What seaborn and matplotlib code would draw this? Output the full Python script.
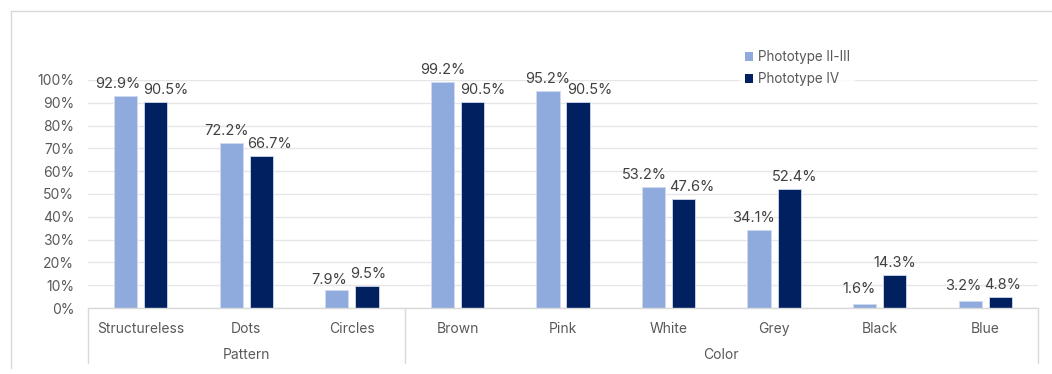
import matplotlib
matplotlib.use("Agg")
import matplotlib.pyplot as plt
import seaborn as sns
import pandas as pd
from matplotlib.lines import Line2D
from matplotlib.patches import Patch
from matplotlib.ticker import PercentFormatter

# --- data -------------------------------------------------------------
categories = ["Structureless", "Dots", "Circles",
              "Brown", "Pink", "White", "Grey", "Black", "Blue"]
groups = ["Pattern", "Color"]
group_sizes = [3, 6]
series_names = ["Phototype II-III", "Phototype IV"]
phototype_2_3 = [92.9, 72.2, 7.9, 99.2, 95.2, 53.2, 34.1, 1.6, 3.2]
phototype_4 = [90.5, 66.7, 9.5, 90.5, 90.5, 47.6, 52.4, 14.3, 4.8]
y_ticks = [0, 10, 20, 30, 40, 50, 60, 70, 80, 90, 100]

df = pd.DataFrame({
    "category": categories * 2,
    "series": [series_names[0]] * len(categories) + [series_names[1]] * len(categories),
    "value": phototype_2_3 + phototype_4,
})

# label nudges (pixels) so neighbouring value labels don't collide
nudge_x = [
    [-8, -5, -8, 0, 0, -9, -6, -6, -7],
    [10, 8, 1, 10, 12, 8, 5, 0, 2],
]
nudge_y = [
    [0, 0, -2, 0, 0, 0, 0, 3, 3],
    [0, 0, 0, 0, 0, 0, 0, 0, 0],
]

# --- style ------------------------------------------------------------
sns.set_theme(style="white")
plt.rcParams["font.family"] = ["Inter", "DejaVu Sans"]
TEXT = "#595959"
LABEL = "#404040"
GRID = "#E6E6E6"
colors = ["#8FAADC", "#002060"]

fig = plt.figure(figsize=(10.52, 3.74), dpi=100)
W, H = 1052, 374
x0, x1, y0, y1 = 88, 1038, 308, 80
ax = fig.add_axes([x0 / W, 1 - y0 / H, (x1 - x0) / W, (y0 - y1) / H])

sns.barplot(data=df, x="category", y="value", hue="series",
            order=categories, hue_order=series_names, palette=colors,
            width=0.57, gap=0.23, ax=ax, legend=False,
            edgecolor="#D0DAF0", linewidth=0.6, saturation=1)

for si, cont in enumerate(ax.containers):
    for ci, (bar, v) in enumerate(zip(cont.patches, cont.datavalues)):
        ax.annotate(f"{v:.1f}%",
                    xy=(bar.get_x() + bar.get_width() / 2, bar.get_height()),
                    xytext=(nudge_x[si][ci], 5 + nudge_y[si][ci]),
                    textcoords="offset pixels", ha="center", va="bottom",
                    fontsize=10.5, color=LABEL)

ax.set_xlim(-0.5, len(categories) - 0.5)
ax.set_ylim(0, 100)
ax.set_yticks(y_ticks)
ax.yaxis.set_major_formatter(PercentFormatter(decimals=0))
ax.tick_params(axis="y", length=0, pad=10, labelsize=10, labelcolor=TEXT)
ax.tick_params(axis="x", length=0, pad=10, labelsize=10, labelcolor=TEXT)
ax.set_xlabel("")
ax.set_ylabel("")
ax.yaxis.grid(True, color=GRID, linewidth=1)
ax.set_axisbelow(True)
for s in ["top", "right", "left"]:
    ax.spines[s].set_visible(False)
ax.spines["bottom"].set_color("#D9D9D9")
ax.spines["bottom"].set_linewidth(1)

# --- grouped category axis ------------------------------------------------
trans = ax.get_xaxis_transform()
line_bottom = -(363 - y0) / (y0 - y1)
group_label_y = -(355 - y0) / (y0 - y1)
start = -0.5
bounds = [start]
for g, n in zip(groups, group_sizes):
    end = start + n
    ax.text((start + end) / 2, group_label_y, g, transform=trans,
            ha="center", va="center", fontsize=10, color=TEXT)
    bounds.append(end)
    start = end
for b in bounds:
    ax.add_line(Line2D([b, b], [0, line_bottom], transform=trans,
                       color="#D9D9D9", linewidth=1, clip_on=False))

# --- legend -------------------------------------------------------------
handles = [Patch(facecolor=c, edgecolor="none") for c in colors]
leg = fig.legend(handles, series_names, loc="upper left",
                 bbox_to_anchor=(733 / W, 1 - 38 / H), frameon=True,
                 fontsize=9.7, handlelength=0.6, handleheight=0.6,
                 handletextpad=0.35, labelspacing=0.6, borderpad=0.4)
leg.get_frame().set_facecolor("white")
leg.get_frame().set_edgecolor("none")
for t in leg.get_texts():
    t.set_color(TEXT)

# --- chart frame ----------------------------------------------------------
fig.add_artist(Line2D([11 / W, 1.0], [1 - 11 / H] * 2, transform=fig.transFigure,
                      color="#D9D9D9", linewidth=1))
fig.add_artist(Line2D([11 / W] * 2, [1 - 11 / H, 1 - 368 / H], transform=fig.transFigure,
                      color="#D9D9D9", linewidth=1))

fig.savefig("out.png", dpi=100, facecolor="white")
